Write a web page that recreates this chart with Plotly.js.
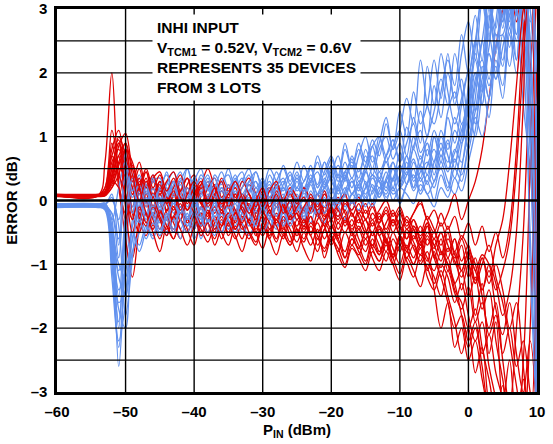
<!DOCTYPE html>
<html>
<head>
<meta charset="utf-8">
<script src="https://cdn.plot.ly/plotly-3.0.1.min.js"></script>
<style>html,body{margin:0;padding:0;background:#fff;}#chart{width:553px;height:444px;}</style>
</head>
<body>
<div id="chart"></div>
<script>
// Input power (dBm) sample points
const pin = [-60,-54,-53,-52,-51,-50,-49,-48,-47,-46,
 -45,-44,-43,-42,-41,-40,-39,-38,-37,-36,
 -35,-34,-33,-32,-31,-30,-29,-28,-27,-26,
 -25,-24,-23,-22,-21,-20,-19,-18,-17,-16,
 -15,-14,-13,-12,-11,-10,-9,-8,-7,-6,
 -5,-4,-3,-2,-1,0,1,2,3,4,
 5,6,7,8,9,10];

// Blue device curves (error, dB)
const blue1 = [-0.08,-0.08,-0.1,-0.6,-2.6,-0.9,0.2,-0.1,0.15,-0.2, 0.1,-0.15,0.2,-0.1,0.05,-0.25,0.15,-0.05,0.25,0.0, -0.2,0.1,-0.1,0.3,0.0,-0.2,0.15,-0.1,0.2,0.05, 0.3,0.0,0.25,-0.05,0.35,0.1,0.4,0.05,0.3,0.15, 0.5,0.1,0.45,0.2,0.6,0.25,0.7,0.3,0.55,0.9, 0.4,0.8,0.6,1.1,0.9,1.6,2.4,3.2,2.6,3.5, 2.8,3.6,3.0,1.5,0.5,-1.5];
const blue2 = [-0.07,-0.07,-0.05,-0.3,-1.6,-1.4,-0.3,0.1,-0.2,0.2, -0.1,0.2,-0.05,0.1,-0.3,0.05,-0.15,0.25,-0.1,0.15, 0.0,-0.25,0.1,-0.1,0.2,0.0,-0.2,0.1,0.3,-0.05, 0.2,0.05,0.35,0.1,0.2,0.5,0.15,0.4,0.1,0.3, 0.05,0.4,0.3,0.7,0.2,0.55,0.4,0.8,0.5,0.3, 1.0,0.6,1.3,0.9,1.5,2.1,2.9,2.2,3.3,2.6, 2.6,3.3,2.2,3.6,1.0,-3.5];
const blue3 = [-0.09,-0.09,-0.12,-0.9,-1.9,-0.5,0.5,-0.2,0.3,-0.3, 0.05,-0.4,0.0,-0.3,0.1,-0.45,-0.1,-0.35,0.0,-0.5, -0.2,-0.4,-0.1,-0.3,0.05,-0.25,-0.45,-0.1,-0.35,0.0, -0.2,-0.4,0.1,-0.15,0.05,-0.3,0.2,-0.1,0.1,0.0, 0.3,-0.05,0.2,0.1,0.35,0.0,0.25,0.5,0.15,0.4, 0.2,0.6,0.3,0.1,0.5,1.3,2.2,1.7,2.8,3.4, 2.9,3.5,3.4,2.6,0.8,-2.0];
const blue4 = [-0.08,-0.08,-0.08,0.1,-0.7,0.85,-0.2,0.35,0.0,0.4, 0.15,0.45,0.1,0.3,0.5,0.2,0.35,0.0,0.4,0.25, 0.5,0.2,0.35,0.1,0.45,0.2,0.5,0.3,0.15,0.4, 0.2,0.55,0.3,0.7,0.4,0.65,0.35,0.8,0.5,0.9, 0.6,0.95,0.7,1.2,0.8,1.4,1.0,1.7,1.2,1.5, 2.2,1.6,2.3,1.5,1.9,1.3,1.8,2.5,3.1,2.7, 3.6,2.9,3.8,3.1,2.0,0.5];
const blue5 = [-0.1,-0.1,-0.15,-1.2,-2.3,-1.0,-0.5,-0.7,-0.4,-0.6, -0.3,-0.55,-0.25,-0.45,-0.2,-0.6,-0.35,-0.15,-0.4,-0.2, -0.45,-0.25,-0.5,-0.3,-0.1,-0.35,-0.2,-0.4,-0.15,-0.3, -0.05,-0.25,0.0,-0.2,0.1,-0.1,0.05,-0.15,0.1,0.2, 0.0,0.25,0.05,0.3,0.1,0.2,0.45,0.15,0.35,0.1, 0.3,0.5,0.2,0.65,0.4,0.9,1.6,2.5,1.9,2.8, 3.5,2.7,3.6,3.2,3.5,-3.5];
const blue6 = [-0.06,-0.06,-0.04,-0.4,-1.1,-0.6,0.0,-0.3,0.2,-0.15, 0.3,0.0,0.25,0.45,0.1,0.35,0.05,0.3,-0.1,0.2, 0.1,0.35,0.0,0.25,-0.1,0.3,0.15,0.45,0.2,0.1, 0.35,0.15,0.5,0.25,0.6,0.3,0.15,0.45,0.6,0.35, 0.8,0.5,1.0,0.6,0.85,1.1,0.7,1.3,0.9,2.1, 1.5,2.3,1.7,1.2,1.6,2.0,1.4,1.9,2.4,3.3, 2.8,3.4,3.0,2.2,-0.5,-3.5];
const blue7 = [-0.08,-0.08,-0.1,-0.5,-1.4,-1.1,-0.6,-0.2,-0.5,-0.1, -0.35,0.0,-0.3,-0.1,-0.4,-0.05,-0.2,0.1,-0.25,-0.05, 0.15,-0.15,0.05,-0.3,-0.05,0.2,-0.1,0.0,-0.3,-0.1, 0.1,-0.2,0.0,-0.25,0.2,0.0,-0.1,0.15,0.35,0.05, 0.2,0.5,0.3,0.0,0.35,0.55,0.25,0.6,0.35,0.8, 0.5,1.0,0.7,0.35,0.85,1.5,2.3,1.8,2.9,2.3, 3.4,2.8,3.6,3.5,1.8,-1.0];
const blue8 = [-0.09,-0.09,-0.1,-0.2,-0.9,0.3,-0.1,0.1,-0.25,0.05, -0.1,0.15,-0.2,0.05,-0.15,0.1,-0.3,-0.05,0.15,-0.2, -0.05,0.15,-0.15,0.05,-0.2,0.1,0.25,-0.05,0.1,-0.2, 0.0,0.2,-0.1,0.1,0.3,0.0,0.25,0.45,0.2,0.5, 0.25,0.0,0.35,0.15,0.5,0.3,0.6,0.2,0.7,0.4, 1.0,0.7,0.95,0.5,1.2,0.8,1.3,1.0,1.6,2.1, 1.6,2.6,2.0,3.0,3.6,2.0];
const blue9 = [-0.07,-0.07,-0.09,-0.7,-2.0,-0.3,0.3,0.0,-0.35,-0.55, -0.2,-0.5,-0.3,-0.6,-0.25,-0.45,-0.1,-0.35,-0.55,-0.2, -0.4,-0.15,-0.35,-0.55,-0.3,-0.05,-0.25,-0.45,-0.2,-0.35, -0.1,-0.3,0.0,-0.2,-0.35,-0.1,-0.25,0.0,-0.15,0.1, -0.1,0.15,0.3,0.05,0.2,-0.05,0.25,0.4,0.1,0.3, 0.0,0.4,0.15,0.5,0.3,0.9,1.4,2.0,1.6,2.5, 2.1,3.0,2.6,3.5,2.8,3.5];
const blue10 = [-0.08,-0.08,-0.12,-0.3,0.2,0.6,0.15,0.4,0.1,0.35, 0.0,0.25,0.45,0.15,0.35,-0.05,0.2,0.4,0.1,0.3, 0.4,0.1,0.3,0.5,0.2,0.35,0.05,0.3,0.5,0.25, 0.45,0.2,0.4,0.1,0.3,0.55,0.3,0.6,0.35,0.7, 1.0,0.6,0.9,1.3,0.8,1.1,1.6,1.2,2.2,1.5, 1.2,1.7,2.2,1.8,2.6,2.0,2.5,3.2,2.7,3.5, 3.0,3.6,3.2,3.7,3.0,1.0];
const blue11 = [-0.07,-0.07,-0.07,-0.5,-1.2,-1.5,-0.8,-0.5,-0.2,-0.45, -0.1,-0.3,0.0,-0.2,0.1,-0.1,-0.3,0.05,-0.15,0.15, -0.1,0.05,-0.2,0.15,0.3,0.0,0.2,-0.1,0.05,0.25, -0.05,0.15,0.3,0.0,0.15,-0.1,0.2,0.35,0.1,0.25, 0.45,0.2,0.1,0.35,0.6,0.3,0.5,0.2,0.45,0.6, 0.3,0.7,0.45,0.8,0.6,1.2,2.0,1.5,2.6,2.0, 3.0,2.4,3.5,2.7,1.5,-2.5];
const blue12 = [-0.09,-0.09,-0.08,-0.2,-0.6,0.5,0.05,0.25,-0.05,0.3, 0.35,0.05,0.3,0.1,0.5,0.15,0.4,0.2,-0.05,0.3, 0.0,0.3,0.45,0.15,0.3,0.0,0.4,0.2,0.55,0.3, 0.6,0.3,0.55,0.2,0.45,0.7,0.4,0.9,0.5,0.8, 0.5,0.85,1.0,0.7,0.95,0.6,0.9,1.2,0.75,1.0, 1.4,1.9,1.5,2.3,1.7,1.1,1.9,2.2,1.8,2.4, 2.9,3.3,2.6,3.4,2.5,-3.5];
const blue13 = [-0.1,-0.1,-0.1,-0.8,-1.7,-2.0,-0.6,-0.3,-0.6,-0.35, -0.55,-0.3,-0.5,-0.15,-0.4,-0.25,-0.6,-0.3,-0.45,-0.1, -0.3,-0.5,-0.2,-0.4,-0.15,-0.5,-0.3,-0.1,-0.4,-0.2, -0.3,-0.1,-0.35,-0.05,-0.2,0.05,-0.1,-0.3,0.0,-0.15, 0.05,-0.1,0.15,0.3,0.0,0.2,0.1,-0.05,0.25,0.1, -0.1,0.2,0.05,0.35,0.15,0.6,1.1,1.8,1.3,2.2, 1.8,2.7,2.2,3.3,3.0,3.5];
const blue14 = [-0.06,-0.06,-0.06,0.05,-0.3,0.4,-0.2,0.15,-0.1,0.2, -0.05,0.3,0.05,0.25,-0.1,0.15,0.3,0.0,0.2,0.45, 0.2,0.4,0.1,0.3,0.45,0.15,0.3,0.05,0.25,0.45, 0.15,0.3,0.5,0.2,0.6,0.35,0.55,0.3,0.7,0.45, 0.7,0.4,0.8,1.0,0.65,0.9,0.5,0.85,1.1,0.7, 1.1,0.8,1.4,1.7,1.2,1.6,2.0,1.5,2.3,1.9, 2.4,2.9,3.5,3.0,3.6,-3.0];
const blue15 = [-0.05,-0.05,-0.07,-1.0,-2.2,-1.6,-0.4,-0.1,0.25,-0.1, 0.2,0.4,0.1,0.35,0.05,0.3,0.5,0.15,0.35,0.0, 0.25,-0.05,0.2,0.4,0.1,0.3,-0.05,0.2,0.35,0.1, 0.4,0.15,0.3,0.6,0.25,0.45,0.1,0.35,0.65,0.3, 0.55,0.85,0.45,0.7,0.95,0.6,1.15,0.8,1.4,1.0, 1.8,1.3,2.0,1.6,2.3,2.8,2.2,3.1,2.5,3.4, 2.7,3.5,2.9,3.6,1.0,-3.5];
const blue16 = [-0.11,-0.11,-0.13,-0.6,-1.5,-0.2,0.35,-0.35,0.05,-0.25, -0.5,-0.2,-0.45,-0.1,-0.3,0.05,-0.25,-0.5,-0.15,-0.35, -0.1,-0.3,0.05,-0.2,-0.4,-0.1,-0.3,0.05,-0.15,-0.4, -0.15,0.0,-0.2,0.1,-0.1,0.2,-0.05,0.1,0.3,0.0, 0.2,0.4,0.05,0.3,0.5,0.2,0.4,0.65,0.3,0.55, 0.8,0.5,0.9,0.6,1.0,1.6,1.2,2.1,1.6,2.6, 2.2,3.0,2.5,3.5,-1.0,-3.5];
const blue17 = [-0.05,-0.05,-0.05,0.0,-0.4,-1.8,-0.9,0.0,-0.3,0.1, -0.15,0.1,0.3,0.0,0.2,-0.1,0.1,0.35,0.05,0.2, 0.0,0.25,0.05,-0.15,0.1,0.3,0.05,0.2,-0.05,0.15, 0.35,0.1,0.3,0.45,0.2,0.4,0.7,0.35,0.55,0.2, 0.45,0.7,0.35,0.6,0.3,0.75,0.5,1.0,0.65,0.9, 0.6,1.1,0.8,1.3,1.0,1.8,2.5,2.0,3.0,2.4, 3.3,2.6,3.4,2.8,3.4,0.0];
const blue18 = [-0.1,-0.1,-0.1,-0.4,-1.0,-1.2,-0.5,-0.8,-0.45,-0.2, -0.45,-0.25,-0.05,-0.3,-0.5,-0.2,-0.4,-0.1,-0.3,-0.5, -0.25,-0.05,-0.3,-0.1,0.1,-0.15,0.05,-0.25,0.0,-0.2, 0.05,-0.15,0.15,-0.05,0.2,0.35,0.0,0.2,-0.05,0.25, 0.1,0.35,0.2,0.45,0.15,0.4,0.7,0.35,0.55,0.25, 0.6,0.9,0.5,0.75,1.1,1.4,1.0,1.7,2.3,1.9, 2.6,2.1,3.0,3.5,2.5,-3.5];

// Red device curves (error, dB)
const red1 = [0.08,0.08,0.6,2.0,0.3,-0.2,0.4,0.1,0.35,-0.1, 0.2,-0.15,0.1,0.3,-0.05,0.2,-0.25,0.05,0.25,-0.1, 0.15,-0.2,0.05,-0.35,-0.1,0.1,-0.25,0.0,-0.4,-0.15, 0.05,-0.3,-0.1,0.1,-0.2,-0.45,-0.15,-0.35,0.0,-0.25, -0.5,-0.2,-0.4,-0.65,-0.3,-0.55,-0.8,-0.45,-0.7,-0.4, -0.9,-0.6,-1.1,-0.8,-1.4,-1.0,-1.8,-1.3,-2.4,-1.9, -3.2,-2.5,-3.5,-2.8,-3.5,-3.5];
const red2 = [0.07,0.07,0.2,0.8,1.1,0.4,-0.3,0.2,-0.1,0.3, 0.0,-0.3,0.1,-0.2,0.2,-0.1,-0.35,0.05,-0.2,0.15, -0.1,-0.35,-0.05,0.1,-0.25,-0.45,-0.15,-0.3,0.05,-0.2, -0.4,-0.15,-0.5,-0.3,-0.1,-0.35,-0.6,-0.3,-0.5,-0.2, -0.45,-0.75,-0.4,-0.6,-0.9,-0.55,-0.75,-0.4,-0.65,-0.95, -0.6,-0.85,-0.5,-1.0,-0.7,-1.2,-0.9,-1.5,-2.0,-1.6, -2.5,-3.2,-2.0,-0.5,2.0,3.5];
const red3 = [0.09,0.09,0.15,0.5,0.9,0.6,-0.1,0.3,0.0,-0.25, 0.1,-0.2,-0.45,-0.1,-0.3,0.0,-0.4,-0.2,-0.5,-0.15, -0.35,-0.6,-0.3,-0.1,-0.45,-0.25,-0.55,-0.2,-0.4,-0.65, -0.3,-0.5,-0.25,-0.7,-0.45,-0.3,-0.6,-0.8,-0.5,-0.7, -0.95,-0.6,-0.85,-0.5,-0.75,-1.0,-0.7,-0.9,-0.6,-1.1, -0.8,-1.2,-0.9,-1.4,-1.6,-2.0,-1.7,-2.3,-2.8,-3.3, -2.9,-3.5,-3.5,-3.5,-3.5,-3.5];
const red4 = [0.08,0.08,0.1,0.3,0.6,0.9,0.2,0.5,0.1,0.35, 0.45,0.15,0.3,0.0,0.25,0.4,0.1,0.3,0.05,0.35, 0.15,0.3,0.0,0.25,0.1,-0.1,0.2,0.05,-0.15,0.15, 0.0,0.2,-0.1,0.1,-0.2,0.05,-0.15,-0.3,0.0,-0.2, -0.05,-0.3,-0.15,0.0,-0.25,-0.1,-0.35,-0.2,0.0,-0.3, -0.15,-0.4,-0.2,0.1,-0.3,0.0,0.3,0.8,1.6,2.4, 3.0,3.5,2.8,3.6,1.5,-3.5];
const red5 = [0.07,0.07,0.12,0.9,0.2,-0.6,-1.2,-0.4,0.1,-0.3, -0.6,-0.3,-0.5,-0.2,-0.45,-0.7,-0.35,-0.55,-0.25,-0.5, -0.7,-0.4,-0.6,-0.3,-0.5,-0.75,-0.45,-0.65,-0.3,-0.55, -0.8,-0.5,-0.7,-0.45,-0.9,-0.6,-0.75,-1.0,-0.7,-0.85, -0.6,-0.9,-1.1,-0.8,-1.0,-0.7,-0.95,-1.2,-0.85,-1.05, -1.3,-1.0,-1.2,-1.6,-1.3,-1.8,-2.2,-1.9,-2.6,-3.1, -3.5,-3.5,-3.5,-3.5,-3.5,-3.5];
const red6 = [0.08,0.08,0.1,0.4,1.0,0.7,0.2,-0.15,0.25,-0.1, 0.15,-0.05,-0.3,0.05,-0.15,0.2,-0.05,-0.25,0.1,-0.1, 0.05,-0.2,0.1,-0.1,-0.3,0.0,-0.2,0.15,-0.1,-0.3, -0.15,-0.35,-0.1,-0.25,0.0,-0.3,-0.1,-0.4,-0.2,-0.45, -0.3,-0.55,-0.35,-0.2,-0.5,-0.3,-0.6,-0.4,-0.55,-0.35, -0.7,-0.5,-0.9,-0.6,-1.1,-0.8,-1.3,-1.0,-0.7,-1.2, -1.6,-2.2,-2.9,-3.5,-2.0,2.5];
const red7 = [0.09,0.09,0.2,1.1,0.5,0.0,0.3,-0.3,-0.55,-0.2, -0.45,-0.15,-0.35,-0.6,-0.3,-0.45,-0.1,-0.35,-0.6,-0.3, -0.5,-0.2,-0.4,-0.6,-0.35,-0.15,-0.45,-0.3,-0.55,-0.25, -0.45,-0.65,-0.4,-0.6,-0.35,-0.55,-0.8,-0.5,-0.7,-0.45, -0.7,-0.5,-0.8,-0.6,-0.85,-0.55,-0.75,-1.0,-0.7,-0.9, -1.1,-0.8,-1.0,-1.3,-1.1,-1.5,-1.2,-1.7,-1.4,-2.2, -2.8,-3.4,-3.5,-2.5,0.5,3.5];
const red8 = [0.08,0.08,0.08,0.3,0.7,-0.1,-0.9,-0.3,0.0,-0.4, -0.15,-0.5,-0.25,-0.05,-0.35,-0.2,-0.5,-0.3,-0.1,-0.4, -0.25,-0.45,-0.2,-0.05,-0.35,-0.55,-0.3,-0.1,-0.45,-0.25, -0.5,-0.3,-0.55,-0.2,-0.4,-0.65,-0.35,-0.5,-0.3,-0.6, -0.8,-0.5,-0.7,-0.95,-0.6,-0.8,-0.5,-0.75,-0.95,-0.6, -0.85,-1.05,-0.75,-0.95,-1.2,-0.9,-1.1,-1.4,-1.0,-1.3, -1.8,-1.4,-0.5,1.5,3.5,3.5];
const red9 = [0.07,0.07,0.1,0.6,0.8,0.5,0.1,0.35,-0.05,0.2, -0.2,0.05,-0.1,0.15,-0.15,0.05,0.25,-0.05,0.1,-0.2, 0.0,0.2,-0.05,0.1,-0.2,0.05,0.2,-0.1,0.05,-0.25, -0.1,0.05,-0.2,-0.05,-0.3,-0.1,0.05,-0.2,-0.4,-0.15, -0.3,-0.5,-0.25,-0.45,-0.2,-0.4,-0.6,-0.3,-0.5,-0.25, -0.45,-0.7,-0.4,-0.8,-0.55,-0.75,-1.0,-1.4,-1.1,-1.7, -2.1,-1.6,-2.4,-3.0,-2.2,-3.5];
const red10 = [0.09,0.09,0.11,0.3,0.2,-0.3,0.1,-0.2,-0.4,-0.1, -0.3,-0.55,-0.25,-0.45,-0.7,-0.4,-0.2,-0.5,-0.3,-0.6, -0.35,-0.55,-0.8,-0.5,-0.65,-0.35,-0.6,-0.85,-0.55,-0.7, -0.5,-0.75,-0.95,-0.6,-0.8,-0.55,-0.85,-1.05,-0.75,-0.9, -1.1,-0.8,-0.95,-0.7,-1.0,-1.25,-0.9,-1.1,-1.35,-1.0, -1.2,-1.5,-1.1,-1.45,-1.7,-1.35,-1.9,-1.6,-2.1,-1.8, -2.4,-2.0,-2.6,-2.2,-3.0,-3.5];
const red11 = [0.08,0.08,0.14,0.7,0.95,0.3,0.55,0.15,0.45,0.05, 0.3,0.0,0.2,0.4,0.1,0.25,-0.05,0.2,0.35,0.05, 0.2,0.0,0.3,0.1,-0.1,0.15,0.0,0.25,-0.05,0.1, -0.05,0.2,0.0,-0.15,0.1,-0.1,-0.25,0.0,-0.15,0.05, -0.2,-0.05,-0.3,-0.1,-0.35,-0.15,-0.4,-0.2,-0.05,-0.3, -0.5,-0.2,-0.45,-0.25,-0.6,-0.35,-0.7,-0.4,-0.8,-0.5, -0.9,-0.4,0.8,2.6,3.5,3.5];
const red12 = [0.07,0.07,0.09,0.2,0.5,0.35,-0.2,-0.5,-0.2,-0.45, -0.15,-0.4,-0.6,-0.3,-0.5,-0.25,-0.45,-0.65,-0.35,-0.15, -0.4,-0.2,-0.45,-0.3,-0.55,-0.35,-0.15,-0.4,-0.6,-0.35, -0.55,-0.3,-0.5,-0.35,-0.6,-0.4,-0.55,-0.3,-0.5,-0.75, -0.5,-0.7,-0.45,-0.65,-0.9,-0.6,-0.8,-0.55,-0.75,-0.5, -0.7,-0.95,-0.6,-0.85,-1.1,-0.8,-1.25,-0.9,-1.3,-1.0, -1.4,-2.0,-1.6,-2.6,-3.5,-1.0];
const red13 = [0.08,0.08,0.1,0.5,0.9,0.1,-0.3,0.2,0.45,0.1, 0.3,0.05,-0.15,0.15,0.35,0.0,0.2,-0.1,0.1,0.3, -0.1,0.1,-0.15,-0.3,0.0,-0.2,0.05,-0.25,-0.1,0.1, -0.2,-0.4,-0.15,0.0,-0.25,-0.1,-0.35,-0.15,-0.45,-0.3, -0.5,-0.3,-0.55,-0.35,-0.15,-0.45,-0.3,-0.6,-0.4,-0.7, -0.5,-0.8,-1.0,-1.3,-1.8,-2.3,-2.0,-2.6,-3.3,-3.5, -3.5,-3.5,-3.5,-3.5,-3.5,-3.5];
const red14 = [0.07,0.07,0.07,0.2,0.4,0.8,0.3,0.6,0.2,0.4, 0.1,0.3,0.45,0.15,0.35,0.1,0.25,0.5,0.2,0.0, 0.25,0.05,0.2,0.35,0.1,-0.1,0.15,0.3,0.0,0.2, 0.05,-0.15,0.1,-0.1,0.15,-0.2,-0.05,0.1,-0.25,-0.05, -0.3,-0.1,-0.35,-0.15,-0.4,-0.2,-0.45,-0.3,-0.6,-0.35, -0.9,-1.2,-1.6,-2.0,-1.8,-2.2,-1.9,-2.4,-2.1,-2.7, -3.1,-3.5,-3.5,-3.5,-3.5,-3.5];
const red15 = [0.1,0.1,0.12,0.7,0.4,0.1,-0.5,-0.1,-0.35,0.05, -0.25,-0.45,-0.1,-0.3,0.0,-0.2,-0.4,-0.15,-0.45,-0.25, -0.55,-0.3,-0.1,-0.35,-0.5,-0.2,-0.35,-0.6,-0.25,-0.45, -0.65,-0.4,-0.55,-0.8,-0.45,-0.7,-0.5,-0.9,-0.6,-0.8, -1.0,-0.7,-0.85,-0.6,-0.9,-1.15,-0.8,-1.0,-0.75,-1.2, -1.4,-1.1,-1.5,-1.9,-2.4,-2.0,-2.7,-2.3,-3.2,-3.5, -3.5,-3.5,-3.5,-3.5,-3.5,-3.5];
const red16 = [0.06,0.06,0.08,0.4,0.7,0.9,0.4,0.0,0.3,0.05, 0.25,-0.05,0.15,-0.15,0.1,0.3,0.0,-0.2,0.05,-0.15, 0.1,-0.15,-0.35,-0.1,-0.3,0.05,-0.15,-0.35,-0.05,-0.3, -0.2,-0.45,-0.25,-0.5,-0.3,-0.15,-0.45,-0.25,-0.55,-0.4, -0.6,-0.35,-0.55,-0.8,-0.5,-0.7,-0.45,-0.65,-0.85,-0.55, -0.75,-0.5,-0.8,-0.6,-0.95,-0.7,-1.1,-0.85,-1.0,-1.4, -1.1,-0.6,0.5,2.2,3.5,-3.5];
const red17 = [0.09,0.09,0.1,0.25,0.55,0.8,0.6,0.2,-0.2,-0.5, -0.8,-0.4,-0.6,-0.3,-0.5,-0.25,-0.55,-0.35,-0.7,-0.4, -0.2,-0.45,-0.25,-0.5,-0.7,-0.4,-0.6,-0.3,-0.5,-0.7, -0.45,-0.6,-0.35,-0.55,-0.75,-0.5,-0.65,-0.9,-0.6,-0.75, -0.5,-0.75,-0.95,-0.65,-0.85,-0.6,-0.9,-0.7,-1.0,-0.8, -1.4,-2.0,-1.6,-2.3,-2.0,-2.5,-2.2,-2.8,-3.3,-3.5, -3.5,-3.5,-3.5,-3.5,-3.5,-3.5];
const red18 = [0.08,0.08,0.09,0.35,0.85,1.05,0.5,0.25,0.5,0.2, 0.4,0.15,0.35,0.05,-0.15,0.1,0.3,0.0,0.2,-0.05, 0.1,0.3,0.05,-0.2,0.0,0.2,-0.1,0.1,-0.2,0.0, -0.3,-0.1,0.05,-0.2,-0.4,-0.15,-0.3,-0.05,-0.2,-0.35, -0.15,-0.4,-0.2,-0.5,-0.3,-0.55,-0.25,-0.45,-0.7,-0.4, -0.6,-0.35,-0.7,-0.9,-0.6,-0.95,-1.3,-0.9,-1.2,-0.7, -0.3,0.6,1.8,3.0,3.5,3.5];

const blueSeries = [blue1,blue2,blue3,blue4,blue5,blue6,blue7,blue8,blue9,blue10,blue11,blue12,blue13,blue14,blue15,blue16,blue17,blue18];
const redSeries = [red1,red2,red3,red4,red5,red6,red7,red8,red9,red10,red11,red12,red13,red14,red15,red16,red17,red18];

const xTicks = [-60,-50,-40,-30,-20,-10,0,10];
const xTickText = ['–60','–50','–40','–30','–20','–10','0','10'];
const yTicks = [-3,-2,-1,0,1,2,3];
const yTickText = ['–3','–2','–1','0','1','2','3'];
const yGrid = [-2.5,-2,-1.5,-1,-0.5,0.5,1,1.5,2,2.5];
const xGrid = [-50,-40,-30,-20,-10,0];

const BLUE = 'rgb(98,145,238)';
const RED = 'rgb(222,0,0)';

const traces = [];
for (let i = 0; i < blueSeries.length; i++) {
  traces.push({x: pin, y: blueSeries[i], type: 'scatter', mode: 'lines',
    line: {color: BLUE, width: 1.3, shape: 'spline', smoothing: 1}, hoverinfo: 'skip', showlegend: false});
  traces.push({x: pin, y: redSeries[i], type: 'scatter', mode: 'lines',
    line: {color: RED, width: 1.3, shape: 'spline', smoothing: 1}, hoverinfo: 'skip', showlegend: false});
}

const shapes = [];
yGrid.forEach(v => shapes.push({type: 'line', xref: 'paper', x0: 0, x1: 1, yref: 'y', y0: v, y1: v,
  line: {color: '#000', width: 1.4}, layer: 'above'}));
xGrid.forEach(v => shapes.push({type: 'line', yref: 'paper', y0: 0, y1: 1, xref: 'x', x0: v, x1: v,
  line: {color: '#000', width: 1.4}, layer: 'above'}));
shapes.push({type: 'line', xref: 'paper', x0: 0, x1: 1, yref: 'y', y0: 0, y1: 0,
  line: {color: '#000', width: 2.6}, layer: 'above'});

const FONT = 'Liberation Sans, Arial, sans-serif';

const layout = {
  width: 553, height: 444,
  margin: {l: 57, r: 16, t: 9, b: 52},
  paper_bgcolor: '#fff', plot_bgcolor: '#fff',
  font: {family: FONT, size: 15, color: '#000', weight: 'bold'},
  xaxis: {
    range: [-60, 10], tickvals: xTicks, ticktext: xTickText,
    showgrid: false, zeroline: false,
    showline: true, mirror: true, linecolor: '#000', linewidth: 2.6,
    ticks: 'outside', ticklen: 4, tickcolor: 'rgba(0,0,0,0)',
    tickfont: {family: FONT, size: 15, color: '#000', weight: 'bold'},
    title: {text: 'P<sub>IN</sub> (dBm)', font: {family: FONT, size: 15, color: '#000', weight: 'bold'}, standoff: 6},
    layer: 'above traces', fixedrange: true
  },
  yaxis: {
    range: [-3, 3], tickvals: yTicks, ticktext: yTickText,
    showgrid: false, zeroline: false,
    showline: true, mirror: true, linecolor: '#000', linewidth: 2.6,
    ticks: 'outside', ticklen: 4, tickcolor: 'rgba(0,0,0,0)',
    tickfont: {family: FONT, size: 15, color: '#000', weight: 'bold'},
    title: {text: 'ERROR (dB)', font: {family: FONT, size: 15, color: '#000', weight: 'bold'}, standoff: 10},
    layer: 'above traces', fixedrange: true
  },
  shapes: shapes,
  annotations: [{
    xref: 'paper', yref: 'paper', x: 0.198, y: 0.987, xanchor: 'left', yanchor: 'top',
    align: 'left', showarrow: false, bgcolor: '#fff', borderpad: 4,
    text: 'INHI INPUT<br>V<sub>TCM1</sub> = 0.52V, V<sub>TCM2</sub> = 0.6V<br>REPRESENTS 35 DEVICES<br>FROM 3 LOTS',
    font: {family: FONT, size: 15.5, color: '#000', weight: 'bold'}
  }]
};

Plotly.newPlot('chart', traces, layout, {displayModeBar: false, staticPlot: true});
</script>
</body>
</html>
